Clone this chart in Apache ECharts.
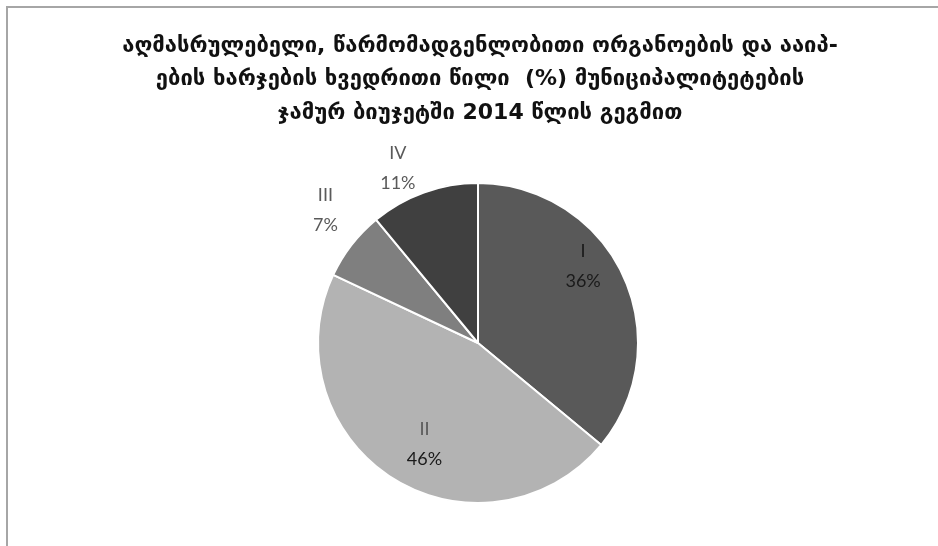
<!DOCTYPE html>
<html>
<head>
<meta charset="utf-8">
<script src="https://cdn.jsdelivr.net/npm/echarts@6/dist/echarts.min.js"></script>
<style>
html,body{margin:0;padding:0;background:#fff;}
#chart{width:938px;height:546px;}
</style>
</head>
<body>
<div id="chart"></div>
<script>
var titleLines = [
  'აღმასრულებელი, წარმომადგენლობითი ორგანოების და ააიპ-',
  'ების ხარჯების ხვედრითი წილი  (%) მუნიციპალიტეტების',
  'ჯამურ ბიუჯეტში 2014 წლის გეგმით'
];
var categories = ['I', 'II', 'III', 'IV'];
var shares = [36, 46, 7, 11];
var sliceColors = ['#595959', '#b3b3b3', '#7f7f7f', '#404040'];
var labelNudges = [[30, -41], [-9, 31], [-87, -82], [-52, -97]];

var chart = echarts.init(document.getElementById('chart'));
var data = categories.map(function (c, i) {
  var dark = (i === 0);
  return {
    name: c,
    value: shares[i],
    itemStyle: { color: sliceColors[i] },
    label: {
      rich: {
        n: { color: dark ? '#1a1a1a' : '#5a5a5a', fontSize: 18, fontFamily: 'Lato', lineHeight: 30 },
        p: { color: (i <= 1) ? '#1a1a1a' : '#5a5a5a', fontSize: 18, fontFamily: 'Lato', lineHeight: 30 }
      }
    }
  };
});

chart.setOption({
  animation: false,
  graphic: [
    {
      type: 'polyline',
      shape: { points: [[7, 546], [7, 7], [938, 7]] },
      style: { stroke: '#a6a6a6', lineWidth: 2, fill: null }
    }
  ].concat(titleLines.map(function (t, i) {
    return {
      type: 'text',
      x: 480,
      y: 46 + i * 33.5,
      style: {
        text: t,
        fontFamily: 'DejaVu Sans',
        fontWeight: 'bold',
        fontSize: 22,
        fill: '#111',
        align: 'center',
        verticalAlign: 'middle'
      }
    };
  })),
  series: [{
    type: 'pie',
    center: [478, 343],
    radius: [0, 160],
    startAngle: 90,
    clockwise: true,
    data: data,
    itemStyle: { borderColor: '#fff', borderWidth: 2 },
    label: {
      show: true,
      position: 'inside',
      formatter: '{n|{b}}\n{p|{d}%}'
    },
    labelLine: { show: false },
    labelLayout: function (params) {
      var d = labelNudges[params.dataIndex];
      return { dx: d[0], dy: d[1] };
    }
  }]
});
</script>
</body>
</html>
